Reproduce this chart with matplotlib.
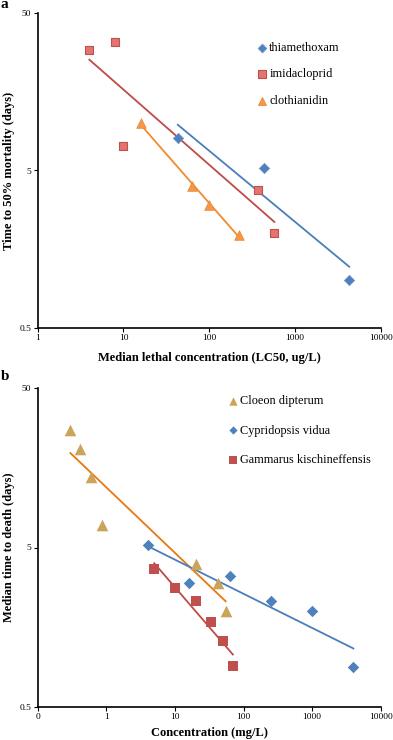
import numpy as np
import matplotlib
matplotlib.use("Agg")
import matplotlib.pyplot as plt
from matplotlib.ticker import FixedLocator, FixedFormatter, NullLocator

plt.rcParams["font.family"] = ["Liberation Serif", "DejaVu Serif"]

# panel a: insecticides
thia_x = [43, 430, 4300]
thia_y = [8.0, 5.15, 1.0]
imid_x = [4, 8, 10, 370, 575]
imid_y = [29, 33, 7.2, 3.75, 2.0]
clot_x = [16, 63, 100, 225]
clot_y = [10, 4.0, 3.0, 1.95]

# panel b: species
cloe_x = [0.3, 0.41, 0.59, 0.87, 20, 43, 55]
cloe_y = [27.5, 20.7, 13.8, 6.9, 3.95, 3.0, 2.0]
cypr_x = [4, 16, 63, 250, 1000, 4000]
cypr_y = [5.15, 3.0, 3.3, 2.3, 2.0, 0.89]
gamm_x = [5, 10, 20, 34, 50, 70]
gamm_y = [3.65, 2.77, 2.3, 1.69, 1.29, 0.9]

BLUE = "#4F81BD"
BLUE_L = "#4A7EBB"
RED = "#C0504D"
RED_L = "#BE4B48"
ORANGE = "#F79646"
ORANGE_L = "#F38A2C"
TAN = "#C9A45A"
ORANGE_B = "#E8780F"


def fit_line(ax, x, y, color):
    lx, ly = np.log10(x), np.log10(y)
    k, b = np.polyfit(lx, ly, 1)
    xs = np.array([lx.min(), lx.max()])
    ax.plot(10 ** xs, 10 ** (k * xs + b), color=color, lw=1.3, zorder=2)


def style_axes(ax, xticks, xlabels):
    ax.set_xscale("log")
    ax.set_yscale("log")
    ax.set_ylim(0.5, 50)
    ax.set_xlim(xticks[0], xticks[-1])
    for s in ["top", "right"]:
        ax.spines[s].set_visible(False)
    for s in ["left", "bottom"]:
        ax.spines[s].set_linewidth(1.2)
    ax.xaxis.set_major_locator(FixedLocator(xticks))
    ax.xaxis.set_major_formatter(FixedFormatter(xlabels))
    ax.xaxis.set_minor_locator(NullLocator())
    ax.yaxis.set_major_locator(FixedLocator([0.5, 5, 50]))
    ax.yaxis.set_major_formatter(FixedFormatter(["0.5", "5", "50"]))
    ax.yaxis.set_minor_locator(NullLocator())
    ax.tick_params(labelsize=6.8, length=3, width=0.8, pad=1.5)


fig = plt.figure(figsize=(3.93, 7.40), dpi=100)

# ---- panel a
ax1 = fig.add_axes([37.7 / 393, 1 - 327.7 / 740, 343 / 393, 314.4 / 740])
style_axes(ax1, [1, 10, 100, 1000, 10000], ["1", "10", "100", "1000", "10000"])
fit_line(ax1, thia_x, thia_y, BLUE_L)
fit_line(ax1, imid_x, imid_y, RED_L)
fit_line(ax1, clot_x, clot_y, ORANGE_L)
ax1.scatter(thia_x, thia_y, marker="D", s=28, color=BLUE, edgecolor="#6C97CC",
            lw=0.5, zorder=3, label="thiamethoxam")
ax1.scatter(imid_x, imid_y, marker="s", s=36, color="#E57470", edgecolor=RED,
            lw=0.8, zorder=3, label="imidacloprid")
ax1.scatter(clot_x, clot_y, marker="^", s=48, color=ORANGE, edgecolor="#E0893A",
            lw=0.5, zorder=3, label="clothianidin")
ax1.legend(loc="upper left", bbox_to_anchor=(0.62, 0.925), frameon=False,
           fontsize=8.8, handletextpad=0.05, labelspacing=1.2, markerscale=0.85,
           handlelength=1.1, borderaxespad=0)
ax1.set_xlabel("Median lethal concentration (LC50, ug/L)", fontsize=9,
               fontweight="bold", labelpad=7)
ax1.set_ylabel("Time to 50% mortality (days)", fontsize=9, fontweight="bold",
               labelpad=3)
fig.text(0.5 / 393, 1 - 5 / 740, "a", fontsize=11, fontweight="bold", va="center")

# ---- panel b
ax2 = fig.add_axes([37.7 / 393, 1 - 706.7 / 740, 343 / 393, 318.4 / 740])
style_axes(ax2, [0.1, 1, 10, 100, 1000, 10000],
           ["0", "1", "10", "100", "1000", "10000"])
fit_line(ax2, cloe_x, cloe_y, ORANGE_B)
fit_line(ax2, cypr_x, cypr_y, BLUE_L)
fit_line(ax2, gamm_x, gamm_y, RED_L)
ax2.scatter(cloe_x, cloe_y, marker="^", s=70, color=TAN, lw=0, zorder=3,
            label="Cloeon dipterum")
ax2.scatter(cypr_x, cypr_y, marker="D", s=34, color=BLUE, lw=0, zorder=3,
            label="Cypridopsis vidua")
ax2.scatter(gamm_x, gamm_y, marker="s", s=55, color=RED, lw=0, zorder=3,
            label="Gammarus kischineffensis")
ax2.legend(loc="upper left", bbox_to_anchor=(0.535, 0.995), frameon=False,
           fontsize=8.8, handletextpad=0.05, labelspacing=1.45, markerscale=0.72,
           handlelength=1.1, borderaxespad=0)
ax2.set_xlabel("Concentration (mg/L)", fontsize=9, fontweight="bold", labelpad=4)
ax2.set_ylabel("Median time to death (days)", fontsize=9, fontweight="bold",
               labelpad=3)
fig.text(0.5 / 393, 1 - 377 / 740, "b", fontsize=11, fontweight="bold", va="center")

fig.savefig("out.png", dpi=100, facecolor="white")
